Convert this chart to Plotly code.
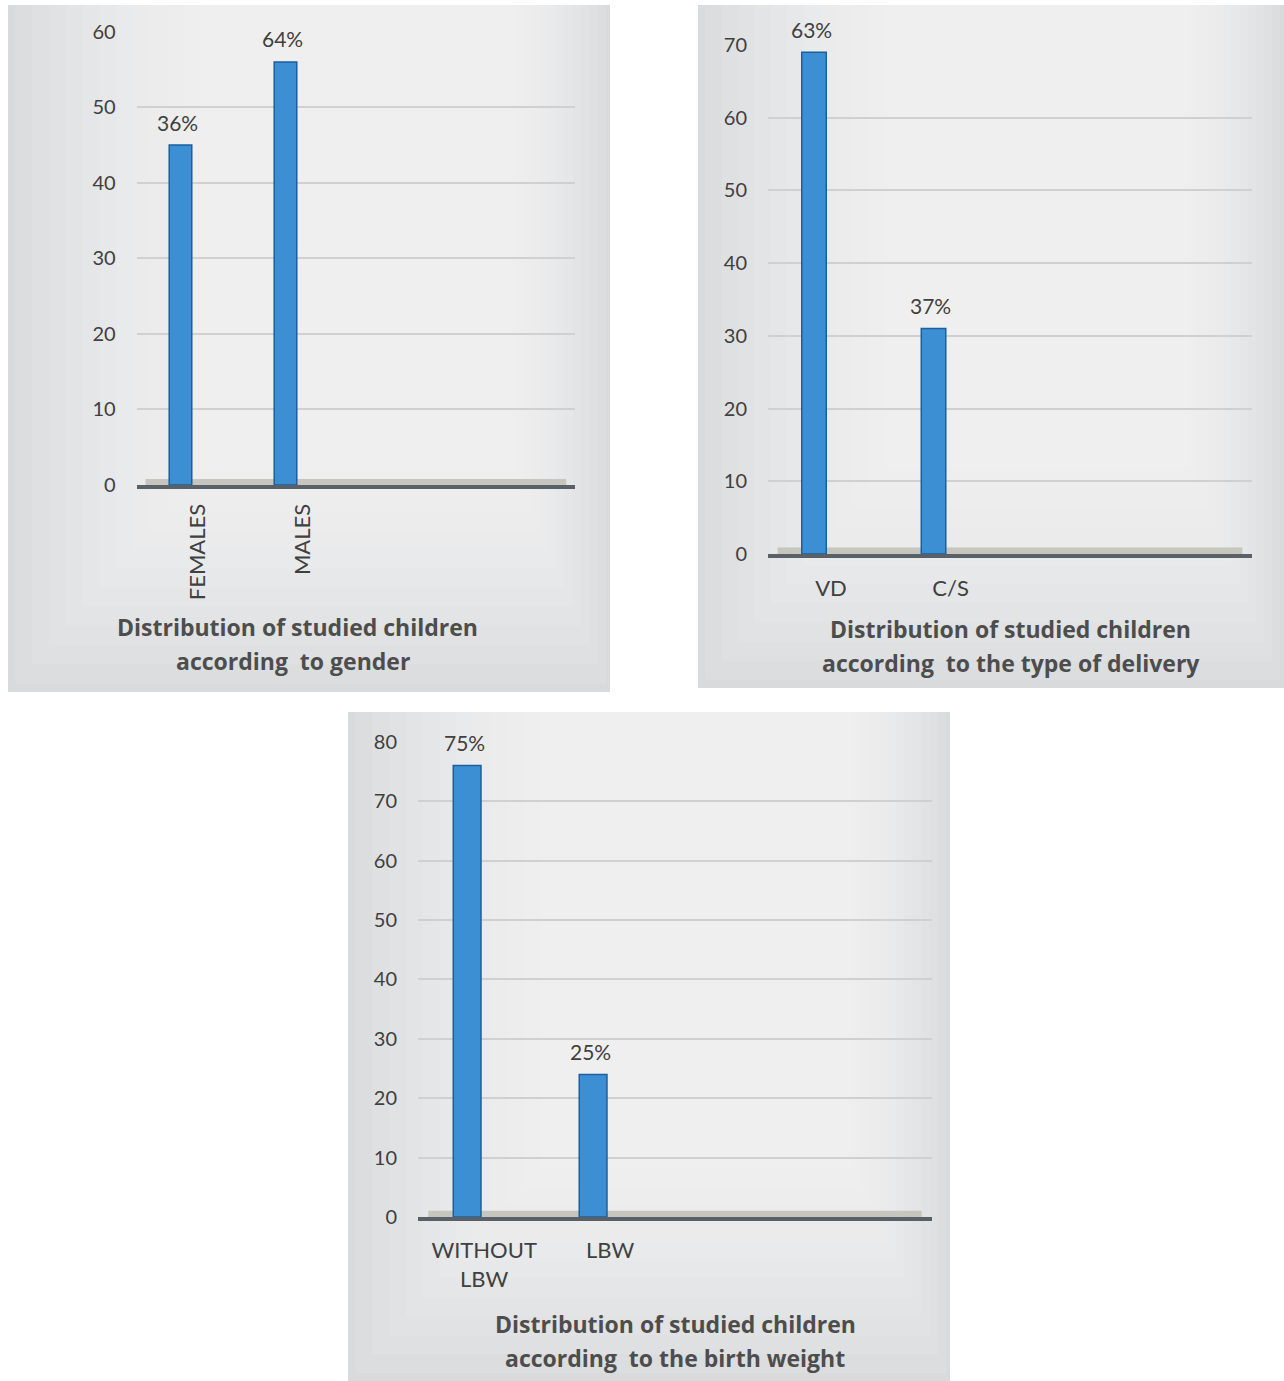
import plotly.graph_objects as go

# ---------------- data ----------------
gender_categories = ["FEMALES", "MALES"]
gender_counts = [45, 56]
gender_pct_labels = ["36%", "64%"]
gender_yticks = [0, 10, 20, 30, 40, 50, 60]

delivery_categories = ["VD", "C/S"]
delivery_counts = [69, 31]
delivery_pct_labels = ["63%", "37%"]
delivery_yticks = [0, 10, 20, 30, 40, 50, 60, 70]

weight_categories = ["WITHOUT<br>LBW", "LBW"]
weight_counts = [76, 24]
weight_pct_labels = ["75%", "25%"]
weight_yticks = [0, 10, 20, 30, 40, 50, 60, 70, 80]

titles = [
    ("Distribution of studied children", "according  to gender"),
    ("Distribution of studied children", "according  to the type of delivery"),
    ("Distribution of studied children", "according  to the birth weight"),
]

# ---------------- styling / layout ----------------
W, H = 1284, 1381
FONT = "Lato, Carlito, 'Open Sans', sans-serif"
TITLE_FONT = "'Open Sans', Lato, sans-serif"
BAR_FILL = "#3b8fd2"
BAR_EDGE = "#1d5f9e"
TXT = "#404040"

def px_x(x):
    return x / W

def px_y(y):
    return 1 - y / H

panels = [
    dict(cats=gender_categories, vals=gender_counts, pcts=gender_pct_labels, ticks=gender_yticks,
         bg=(8, 5, 610, 692), xdom=(136.7, 575), ydom=(485, 31.7), xr=[-0.417, 3.757], bw=0.215,
         tickangle=-90, xstand=6, title_pos=((297, 627), (293, 661))),
    dict(cats=delivery_categories, vals=delivery_counts, pcts=delivery_pct_labels, ticks=delivery_yticks,
         bg=(698, 5, 1284, 688), xdom=(768, 1252), ydom=(554, 45), xr=[-0.385, 3.665], bw=0.205,
         tickangle=0, xstand=12, title_pos=((1010, 629), (1011, 663))),
    dict(cats=weight_categories, vals=weight_counts, pcts=weight_pct_labels, ticks=weight_yticks,
         bg=(348, 712, 950, 1381), xdom=(418, 932), ydom=(1217, 741.7), xr=[-0.39, 3.69], bw=0.22,
         tickangle=0, xstand=11, title_pos=((675, 1324), (675, 1358))),
]

fig = go.Figure()
shapes = []
annotations = []
layout_axes = {}

for i, p in enumerate(panels, start=1):
    xa = "x" if i == 1 else f"x{i}"
    ya = "y" if i == 1 else f"y{i}"
    xkey = "xaxis" if i == 1 else f"xaxis{i}"
    ykey = "yaxis" if i == 1 else f"yaxis{i}"

    # panel background with soft vignette
    x0, y0, x1, y1 = p["bg"]
    shapes.append(dict(type="rect", xref="paper", yref="paper", layer="below",
                       x0=px_x(x0), x1=px_x(x1), y0=px_y(y1), y1=px_y(y0),
                       fillcolor="#d8dadc", line=dict(width=0)))
    w, h = x1 - x0, y1 - y0
    for k in range(12):
        f = 0.012 + k * 0.028
        shapes.append(dict(type="rect", xref="paper", yref="paper", layer="below",
                           x0=px_x(x0 + w * f), x1=px_x(x1 - w * f * 0.5),
                           y0=px_y(y1 - h * f * 1.0), y1=px_y(y0),
                           fillcolor="white", opacity=0.09, line=dict(width=0)))

    # floor strip
    shapes.append(dict(type="rect", xref=f"{xa} domain", yref=f"{ya} domain", layer="below",
                       x0=0.02, x1=0.98, y0=0, y1=0.013,
                       fillcolor="#c6c6be", line=dict(width=0)))

    fig.add_trace(go.Bar(
        x=p["cats"], y=p["vals"], width=p["bw"],
        marker=dict(color=BAR_FILL, line=dict(color=BAR_EDGE, width=1.5)),
        xaxis=xa, yaxis=ya, showlegend=False, hoverinfo="skip",
    ))

    for c, v, t in zip(p["cats"], p["vals"], p["pcts"]):
        annotations.append(dict(x=c, y=v, xref=xa, yref=ya, text=t, showarrow=False,
                                yanchor="middle", yshift=23, xshift=-3,
                                font=dict(family=FONT, size=21, color=TXT)))

    (l1x, l1y), (l2x, l2y) = p["title_pos"]
    annotations.append(dict(x=px_x(l1x), y=px_y(l1y), xref="paper", yref="paper",
                            text=f"<b>{titles[i-1][0]}</b>", showarrow=False,
                            xanchor="center", yanchor="middle",
                            font=dict(family=TITLE_FONT, size=23, color="#4d4d4d")))
    annotations.append(dict(x=px_x(l2x), y=px_y(l2y), xref="paper", yref="paper",
                            text=f"<b>{titles[i-1][1]}</b>", showarrow=False,
                            xanchor="center", yanchor="middle",
                            font=dict(family=TITLE_FONT, size=23, color="#4d4d4d")))

    xd0, xd1 = p["xdom"]
    yb, yt = p["ydom"]
    layout_axes[xkey] = dict(
        domain=[px_x(xd0), px_x(xd1)], anchor=ya, type="category",
        categoryorder="array", categoryarray=p["cats"], range=p["xr"],
        showgrid=False, zeroline=False, showline=True, linecolor="#5a6067", linewidth=4,
        ticks="", tickangle=p["tickangle"], ticklabelshift=17, ticklabelstandoff=p["xstand"],
        tickfont=dict(family=FONT, size=22, color=TXT), fixedrange=True, automargin=False,
    )
    layout_axes[ykey] = dict(
        domain=[px_y(yb), px_y(yt)], anchor=xa, range=[0, p["ticks"][-1]],
        tickmode="array", tickvals=p["ticks"],
        showgrid=True, gridcolor="#cfd0d2", gridwidth=1.5, zeroline=False, showline=False,
        ticks="", ticklabelstandoff=20,
        tickfont=dict(family=FONT, size=20, color=TXT), fixedrange=True, automargin=False,
    )

fig.update_layout(
    width=W, height=H, margin=dict(l=0, r=0, t=0, b=0, pad=0, autoexpand=False),
    paper_bgcolor="white", plot_bgcolor="rgba(0,0,0,0)", showlegend=False,
    shapes=shapes, annotations=annotations, bargap=0.5,
    **layout_axes,
)

fig.write_html("out.html", config={"displayModeBar": False})
